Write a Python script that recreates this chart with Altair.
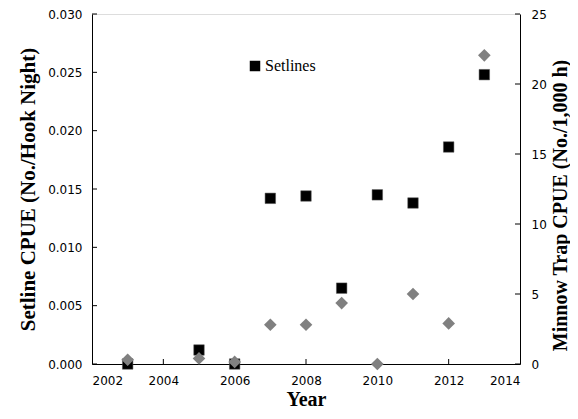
import altair as alt
import pandas as pd

years = [2003, 2005, 2006, 2007, 2008, 2009, 2010, 2011, 2012, 2013]
setline_cpue = [0.0, 0.0012, 0.0, 0.0142, 0.0144, 0.0065, 0.0145, 0.0138, 0.0186, 0.0248]
minnow_cpue = [0.3, 0.4, 0.15, 2.8, 2.8, 4.35, 0.0, 5.0, 2.9, 22.05]

x_ticks = [2002, 2004, 2006, 2008, 2010, 2012, 2014]
left_ticks = [0.0, 0.005, 0.010, 0.015, 0.020, 0.025, 0.030]
right_ticks = [0, 5, 10, 15, 20, 25]

df = pd.DataFrame({"Year": years, "Setline": setline_cpue, "Minnow": minnow_cpue,
                   "Series": ["Setlines"] * len(years)})
df_xt = pd.DataFrame({"Year": x_ticks[1:-1]})
df_lt = pd.DataFrame({"v": left_ticks})
df_rt = pd.DataFrame({"v": right_ticks})

W, H = 428, 350
xscale = alt.Scale(domain=[2002, 2014], nice=False, zero=False)
lscale = alt.Scale(domain=[0, 0.03], nice=False)
rscale = alt.Scale(domain=[0, 25], nice=False)

lab_font = "DejaVu Sans"
title_font = "Liberation Serif"

x_axis = alt.Axis(values=x_ticks, format="d", ticks=False, labelPadding=11,
                  title="Year", titleFont=title_font, titleFontSize=20, titleFontWeight="bold",
                  titlePadding=3, labelFont=lab_font, labelFontSize=12, labelColor="black",
                  grid=False, domainColor="black")

squares = alt.Chart(df).mark_point(shape="square", filled=True, size=110, opacity=1,
                                   stroke="#555555", strokeWidth=0.5).encode(
    x=alt.X("Year:Q", scale=xscale, axis=x_axis),
    y=alt.Y("Setline:Q", scale=lscale,
            axis=alt.Axis(values=left_ticks, format=".3f", ticks=False, labelPadding=10,
                          title="Setline CPUE (No./Hook Night)", titleFont=title_font,
                          titleFontSize=21, titleFontWeight="bold", titlePadding=9,
                          labelFont=lab_font, labelFontSize=12, labelColor="black",
                          grid=False, domainColor="black")),
    color=alt.Color("Series:N", scale=alt.Scale(domain=["Setlines"], range=["black"]),
                    legend=alt.Legend(title=None, orient="none", legendX=155, legendY=44,
                                      labelFont=title_font, labelFontSize=16, labelColor="black",
                                      symbolType="square", symbolSize=110, symbolStrokeWidth=0,
                                      labelOffset=2, padding=0)),
)

xticks_layer = alt.Chart(df_xt).mark_rule(color="black", strokeWidth=1).encode(
    x=alt.X("Year:Q", scale=xscale), y=alt.value(H), y2=alt.value(H - 5))
lticks_layer = alt.Chart(df_lt).mark_rule(color="black", strokeWidth=1).encode(
    y=alt.Y("v:Q", scale=lscale), x=alt.value(0), x2=alt.value(5))

left = alt.layer(squares, xticks_layer, lticks_layer)

diamonds = alt.Chart(df).mark_point(shape="diamond", filled=True, size=160, opacity=1,
                                    color="#808080").encode(
    x=alt.X("Year:Q", scale=xscale),
    y=alt.Y("Minnow:Q", scale=rscale,
            axis=alt.Axis(orient="right", values=right_ticks, ticks=False, labelPadding=11,
                          title="Minnow Trap CPUE (No./1,000 h)", titleFont=title_font,
                          titleFontSize=20, titleFontWeight="bold", titlePadding=4,
                          titleAngle=270, titleBaseline="top", titleY=191,
                          labelFont=lab_font, labelFontSize=12,
                          labelColor="black", grid=False, domainColor="black")),
)
rticks_layer = alt.Chart(df_rt).mark_rule(color="black", strokeWidth=1).encode(
    y=alt.Y("v:Q", scale=rscale), x=alt.value(W), x2=alt.value(W - 5))

right = alt.layer(diamonds, rticks_layer)

chart = alt.layer(left, right).resolve_scale(y="independent").properties(
    width=W, height=H,
    autosize=alt.AutoSizeParams(type="none"),
    padding={"left": 84, "top": 6, "right": 50, "bottom": 47},
).configure_view(stroke=None).configure(background="white")

chart.save("out.html", embed_options={"renderer": "svg", "actions": False})
